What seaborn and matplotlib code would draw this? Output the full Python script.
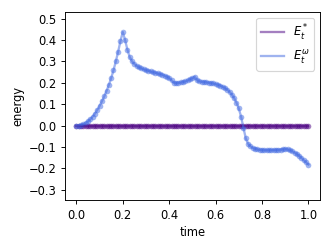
# energy over time: E_t^* vs E_t^omega
import numpy as np
import pandas as pd
import seaborn as sns
import matplotlib
matplotlib.use("Agg")
import matplotlib.pyplot as plt

time = [i / 100 for i in range(101)]

e_star = [0.0] * 101

e_omega = [
    0.000, 0.000, 0.002, 0.006, 0.012, 0.020, 0.030, 0.042, 0.056, 0.073,
    0.092, 0.113, 0.136, 0.162, 0.190, 0.222, 0.258, 0.300, 0.345, 0.395,
    0.437, 0.400, 0.355, 0.320, 0.300, 0.288, 0.279, 0.272, 0.267, 0.263,
    0.259, 0.256, 0.253, 0.250, 0.247, 0.244, 0.241, 0.238, 0.234, 0.229,
    0.222, 0.212, 0.200, 0.199, 0.200, 0.202, 0.204, 0.207, 0.211, 0.216,
    0.222, 0.229, 0.212, 0.207, 0.205, 0.204, 0.203, 0.201, 0.199, 0.197,
    0.194, 0.191, 0.187, 0.182, 0.176, 0.168, 0.158, 0.145, 0.128, 0.107,
    0.080, 0.040, -0.010, -0.060, -0.085, -0.097, -0.104, -0.108, -0.111, -0.113,
    -0.114, -0.115, -0.115, -0.115, -0.115, -0.114, -0.114, -0.113, -0.112, -0.111,
    -0.110, -0.111, -0.115, -0.120, -0.126, -0.133, -0.141, -0.151, -0.162, -0.172,
    -0.182,
]

y_ticks = [-0.3, -0.2, -0.1, 0.0, 0.1, 0.2, 0.3, 0.4, 0.5]

df = pd.DataFrame({"time": time, "star": e_star, "omega": e_omega})

fig, ax = plt.subplots(figsize=(4, 3), dpi=83)

# lines (these go in the legend)
sns.lineplot(data=df, x="time", y="star", ax=ax, color="indigo", alpha=0.5,
             linewidth=2, label=r"$E_t^*$")
sns.lineplot(data=df, x="time", y="omega", ax=ax, color="royalblue", alpha=0.5,
             linewidth=2, label=r"$E_t^\omega$")
# dots on top
sns.scatterplot(data=df, x="time", y="star", ax=ax, color="indigo", alpha=0.5,
                s=24, linewidth=0)
sns.scatterplot(data=df, x="time", y="omega", ax=ax, color="royalblue", alpha=0.5,
                s=24, linewidth=0)

ax.set_xlabel("time")
ax.set_ylabel("energy")
ax.set_ylim(-0.35, 0.53)
ax.set_yticks(y_ticks)
ax.set_xticks([0.0, 0.2, 0.4, 0.6, 0.8, 1.0])
ax.legend(loc="upper right")

plt.subplots_adjust(left=0.195, right=0.964, top=0.951, bottom=0.195)
plt.savefig("out.png", dpi=83)
